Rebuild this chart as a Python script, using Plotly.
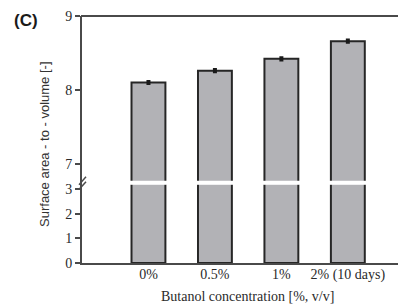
import plotly.graph_objects as go

categories = ["0%", "0.5%", "1%", "2% (10 days)"]
values = [8.10, 8.26, 8.42, 8.66]
errors = [0.015, 0.015, 0.015, 0.015]
lower_ticks = [0, 1, 2, 3]
upper_ticks = [7, 8, 9]

OFF = 8  # page body margin
W, H = 406 - OFF, 307 - OFF
L, R, T, B = 82 - OFF, 1, 14 - OFF, 52 - OFF
pw, ph = W - L - R, H - T - B

def px_x(p):
    return (p - OFF - L) / pw

def px_y(p):
    return (H - B - (p - OFF)) / ph

xs = list(range(len(categories)))
bar_fill = "#b2b2b6"
edge = "#262626"
axis_col = "#4a4a4a"
serif = "Liberation Serif, Times New Roman, serif"
sans = "Liberation Sans, Arial, sans-serif"

fig = go.Figure()
for yax in ["y", "y2"]:
    fig.add_trace(go.Bar(
        x=xs, y=values, yaxis=yax, width=0.51,
        marker=dict(color=bar_fill, line=dict(color=edge, width=2)),
        error_y=dict(type="data", array=errors, color="#1a1a1a", thickness=3, width=2) if yax == "y2" else None,
        showlegend=False,
    ))

low_top = px_y(180)
up_bot = px_y(184)

fig.update_layout(
    width=W, height=H,
    margin=dict(l=L, r=R, t=T, b=B),
    plot_bgcolor="white", paper_bgcolor="white",
    xaxis=dict(
        range=[-1.0, 3.86], tickvals=xs, ticktext=categories,
        showline=True, linecolor=axis_col, linewidth=2,
        ticks="", showgrid=False, zeroline=False,
        tickfont=dict(family=serif, size=14, color="#2a2a2a"),
        ticklabelstandoff=-3,
        anchor="y",
    ),
    yaxis=dict(
        domain=[0, low_top], range=[0, (255 - 180) / 22.33],
        tickvals=lower_ticks, showline=True, linecolor=axis_col, linewidth=2,
        ticks="outside", ticklen=5, tickwidth=1.5, tickcolor=axis_col,
        showgrid=False, zeroline=False, ticklabeloverflow="allow",
        tickfont=dict(family=serif, size=14, color="#2a2a2a"),
    ),
    yaxis2=dict(
        domain=[up_bot, 1], range=[7 - (184 - 163) / 74.5, 9],
        tickvals=upper_ticks, showline=True, linecolor=axis_col, linewidth=2,
        ticks="outside", ticklen=5, tickwidth=1.5, tickcolor=axis_col,
        showgrid=False, zeroline=False, anchor="x", ticklabeloverflow="allow",
        tickfont=dict(family=serif, size=14, color="#2a2a2a"),
    ),
    shapes=[
        dict(type="rect", xref="paper", yref="paper", x0=px_x(84), x1=1.0,
             y0=px_y(184), y1=px_y(180), fillcolor="white",
             line=dict(width=0), layer="above"),
        dict(type="line", xref="paper", yref="paper", x0=px_x(81), x1=1.0,
             y0=1.0, y1=1.0, line=dict(color=axis_col, width=2)),
        dict(type="line", xref="paper", yref="paper", x0=px_x(79), x1=px_x(86),
             y0=px_y(184), y1=px_y(176), line=dict(color=axis_col, width=1.5)),
        dict(type="line", xref="paper", yref="paper", x0=px_x(79), x1=px_x(86),
             y0=px_y(189), y1=px_y(181), line=dict(color=axis_col, width=1.5)),
    ],
    annotations=[
        dict(text="Surface area - to - volume [-]", xref="paper", yref="paper",
             x=px_x(45), y=px_y(144), textangle=-90, showarrow=False,
             xanchor="center", yanchor="middle",
             font=dict(family=sans, size=13, color="#333333")),
        dict(text="Butanol concentration [%, v/v]", xref="paper", yref="paper",
             x=px_x(247), y=px_y(297), showarrow=False,
             xanchor="center", yanchor="middle",
             font=dict(family=serif, size=14, color="#2a2a2a")),
        dict(text="<b>(C)</b>", xref="paper", yref="paper",
             x=px_x(26), y=px_y(19), showarrow=False,
             xanchor="center", yanchor="middle",
             font=dict(family=sans, size=17, color="#1a1a1a")),
    ],
)

fig.write_html("out.html")
